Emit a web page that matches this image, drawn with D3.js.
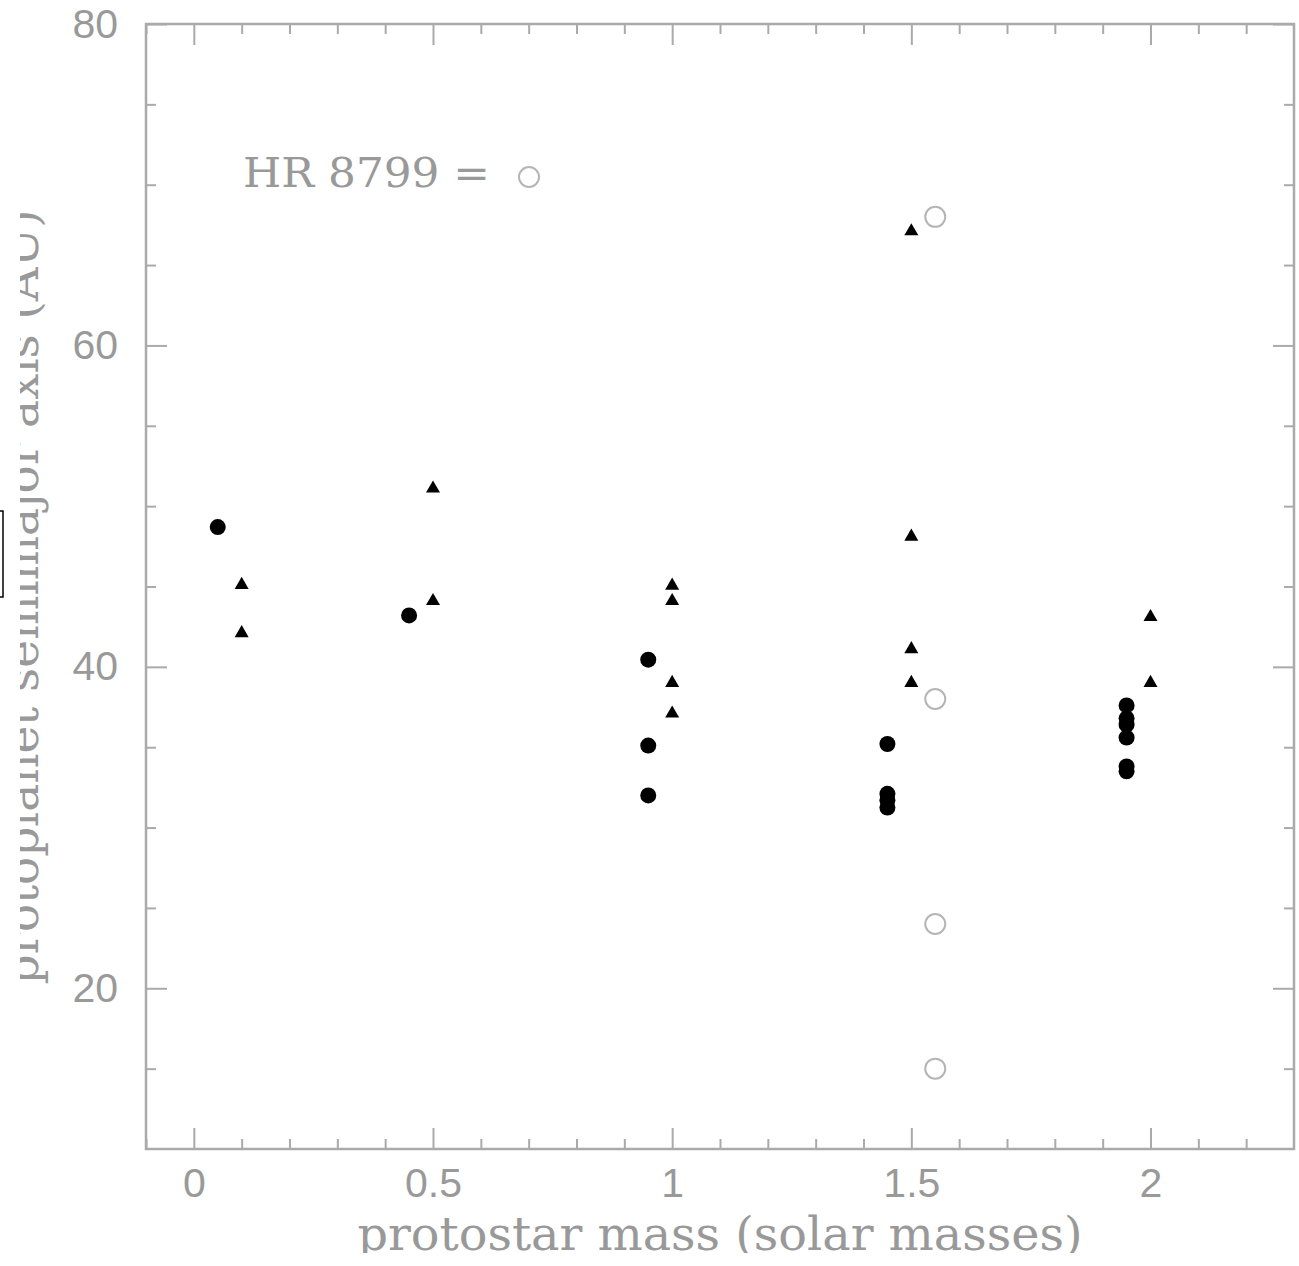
<!DOCTYPE html>
<html>
<head>
<meta charset="utf-8">
<script src="https://cdn.jsdelivr.net/npm/d3@7"></script>
<style>
  body { margin: 0; background: #fff; }
  svg { display: block; }
</style>
</head>
<body>
<div id="chart"></div>
<script>
// filled circles
const dotMass = [0.05, 0.45, 0.95, 0.95, 0.95, 1.45, 1.45, 1.45, 1.45, 1.95, 1.95, 1.95, 1.95, 1.95, 1.95];
const dotAxis = [48.7, 43.2, 40.45, 35.1, 32.0, 35.2, 32.1, 31.7, 31.25, 37.6, 36.8, 36.4, 35.6, 33.8, 33.5];

// filled triangles
const triMass = [0.1, 0.1, 0.5, 0.5, 1, 1, 1, 1, 1.5, 1.5, 1.5, 1.5, 2, 2];
const triAxis = [45.1, 42.1, 51.1, 44.1, 45.05, 44.1, 39.0, 37.1, 67.1, 48.1, 41.1, 39.0, 43.1, 39.0];

// HR 8799 planets (open circles)
const hrMass = [1.55, 1.55, 1.55, 1.55];
const hrAxis = [68.0, 38.0, 24.0, 15.0];

const xMajor = [0, 0.5, 1, 1.5, 2];
const yMajor = [20, 40, 60, 80];

const width = 1299, height = 1266;
const grey = "#aaa", labelGrey = "#999";

const x = d3.scaleLinear([-0.1, 2.3], [146, 1294]);
const y = d3.scaleLinear([10, 80], [1149, 24]);

const xMinor = d3.range(-0.1, 2.3, 0.1).map(v => +v.toFixed(1)).filter(v => !xMajor.includes(v));
const yMinor = d3.range(15, 80, 5).filter(v => !yMajor.includes(v));

const svg = d3.select("#chart").append("svg")
    .attr("width", width)
    .attr("height", height)
    .style("font-family", "'DejaVu Sans', sans-serif");

svg.append("defs").append("clipPath")
    .attr("id", "crop")
  .append("rect")
    .attr("x", 20).attr("y", 0)
    .attr("width", width - 20).attr("height", 1253);

// axes; domains removed, frame drawn as a rect
const styleAxis = g => {
    g.select(".domain").remove();
    g.selectAll(".tick line").attr("stroke", grey).attr("stroke-width", 2);
    g.selectAll(".tick text").attr("fill", labelGrey).style("font-size", "41px");
};

svg.append("g").attr("transform", "translate(0,1149)")
    .call(d3.axisBottom(x).tickValues(xMajor).tickSize(-21).tickPadding(19).tickFormat(d => d))
    .call(styleAxis);
svg.append("g").attr("transform", "translate(0,1149)")
    .call(d3.axisBottom(x).tickValues(xMinor).tickSize(-10).tickFormat(""))
    .call(styleAxis);
svg.append("g").attr("transform", "translate(0,24)")
    .call(d3.axisTop(x).tickValues(xMajor).tickSize(-21).tickFormat(""))
    .call(styleAxis);
svg.append("g").attr("transform", "translate(0,24)")
    .call(d3.axisTop(x).tickValues(xMinor).tickSize(-10).tickFormat(""))
    .call(styleAxis);

svg.append("g").attr("transform", "translate(146,0)")
    .call(d3.axisLeft(y).tickValues(yMajor).tickSize(-21).tickPadding(28).tickFormat(d => d))
    .call(styleAxis);
svg.append("g").attr("transform", "translate(146,0)")
    .call(d3.axisLeft(y).tickValues(yMinor).tickSize(-10).tickFormat(""))
    .call(styleAxis);
svg.append("g").attr("transform", "translate(1294,0)")
    .call(d3.axisRight(y).tickValues(yMajor).tickSize(-21).tickFormat(""))
    .call(styleAxis);
svg.append("g").attr("transform", "translate(1294,0)")
    .call(d3.axisRight(y).tickValues(yMinor).tickSize(-10).tickFormat(""))
    .call(styleAxis);

svg.append("rect")
    .attr("x", x(-0.1)).attr("y", y(80))
    .attr("width", x(2.3) - x(-0.1)).attr("height", y(10) - y(80))
    .attr("fill", "none").attr("stroke", grey).attr("stroke-width", 2.5);

// axis titles, cropped like the scan
const titles = svg.append("g").attr("clip-path", "url(#crop)")
    .style("font-family", "'DejaVu Serif', serif")
    .attr("fill", labelGrey);
titles.append("text")
    .attr("x", 720).attr("y", 1250)
    .attr("text-anchor", "middle")
    .attr("textLength", 725).attr("lengthAdjust", "spacingAndGlyphs")
    .style("font-size", "46px")
    .text("protostar mass (solar masses)");
titles.append("text")
    .attr("transform", "translate(38,597) rotate(-90)")
    .attr("text-anchor", "middle")
    .attr("textLength", 775).attr("lengthAdjust", "spacingAndGlyphs")
    .style("font-size", "46px")
    .text("protoplanet semimajor axis (AU)");

// legend note
svg.append("text")
    .attr("x", 243).attr("y", 187)
    .attr("textLength", 247).attr("lengthAdjust", "spacingAndGlyphs")
    .attr("fill", labelGrey)
    .style("font-family", "'DejaVu Serif', serif")
    .style("font-size", "41px")
    .text("HR 8799 =");
svg.append("circle")
    .attr("cx", 529).attr("cy", 177).attr("r", 10)
    .attr("fill", "none").attr("stroke", "#b5b5b5").attr("stroke-width", 2);

// marks
svg.append("g").selectAll("circle")
    .data(dotMass)
    .join("circle")
        .attr("cx", d => x(d))
        .attr("cy", (d, i) => y(dotAxis[i]))
        .attr("r", 8)
        .attr("fill", "#000");

const tri = d3.symbol(d3.symbolTriangle, 85);
svg.append("g").selectAll("path")
    .data(triMass)
    .join("path")
        .attr("transform", (d, i) => `translate(${x(d)},${y(triAxis[i])})`)
        .attr("d", tri)
        .attr("fill", "#000");

svg.append("g").selectAll("circle")
    .data(hrMass)
    .join("circle")
        .attr("cx", d => x(d))
        .attr("cy", (d, i) => y(hrAxis[i]))
        .attr("r", 10)
        .attr("fill", "none")
        .attr("stroke", "#b5b5b5")
        .attr("stroke-width", 2);

// stray box at the left edge of the scan
svg.append("rect")
    .attr("x", -2).attr("y", 511).attr("width", 5).attr("height", 86)
    .attr("fill", "none").attr("stroke", "#000").attr("stroke-width", 1.5);
</script>
</body>
</html>
